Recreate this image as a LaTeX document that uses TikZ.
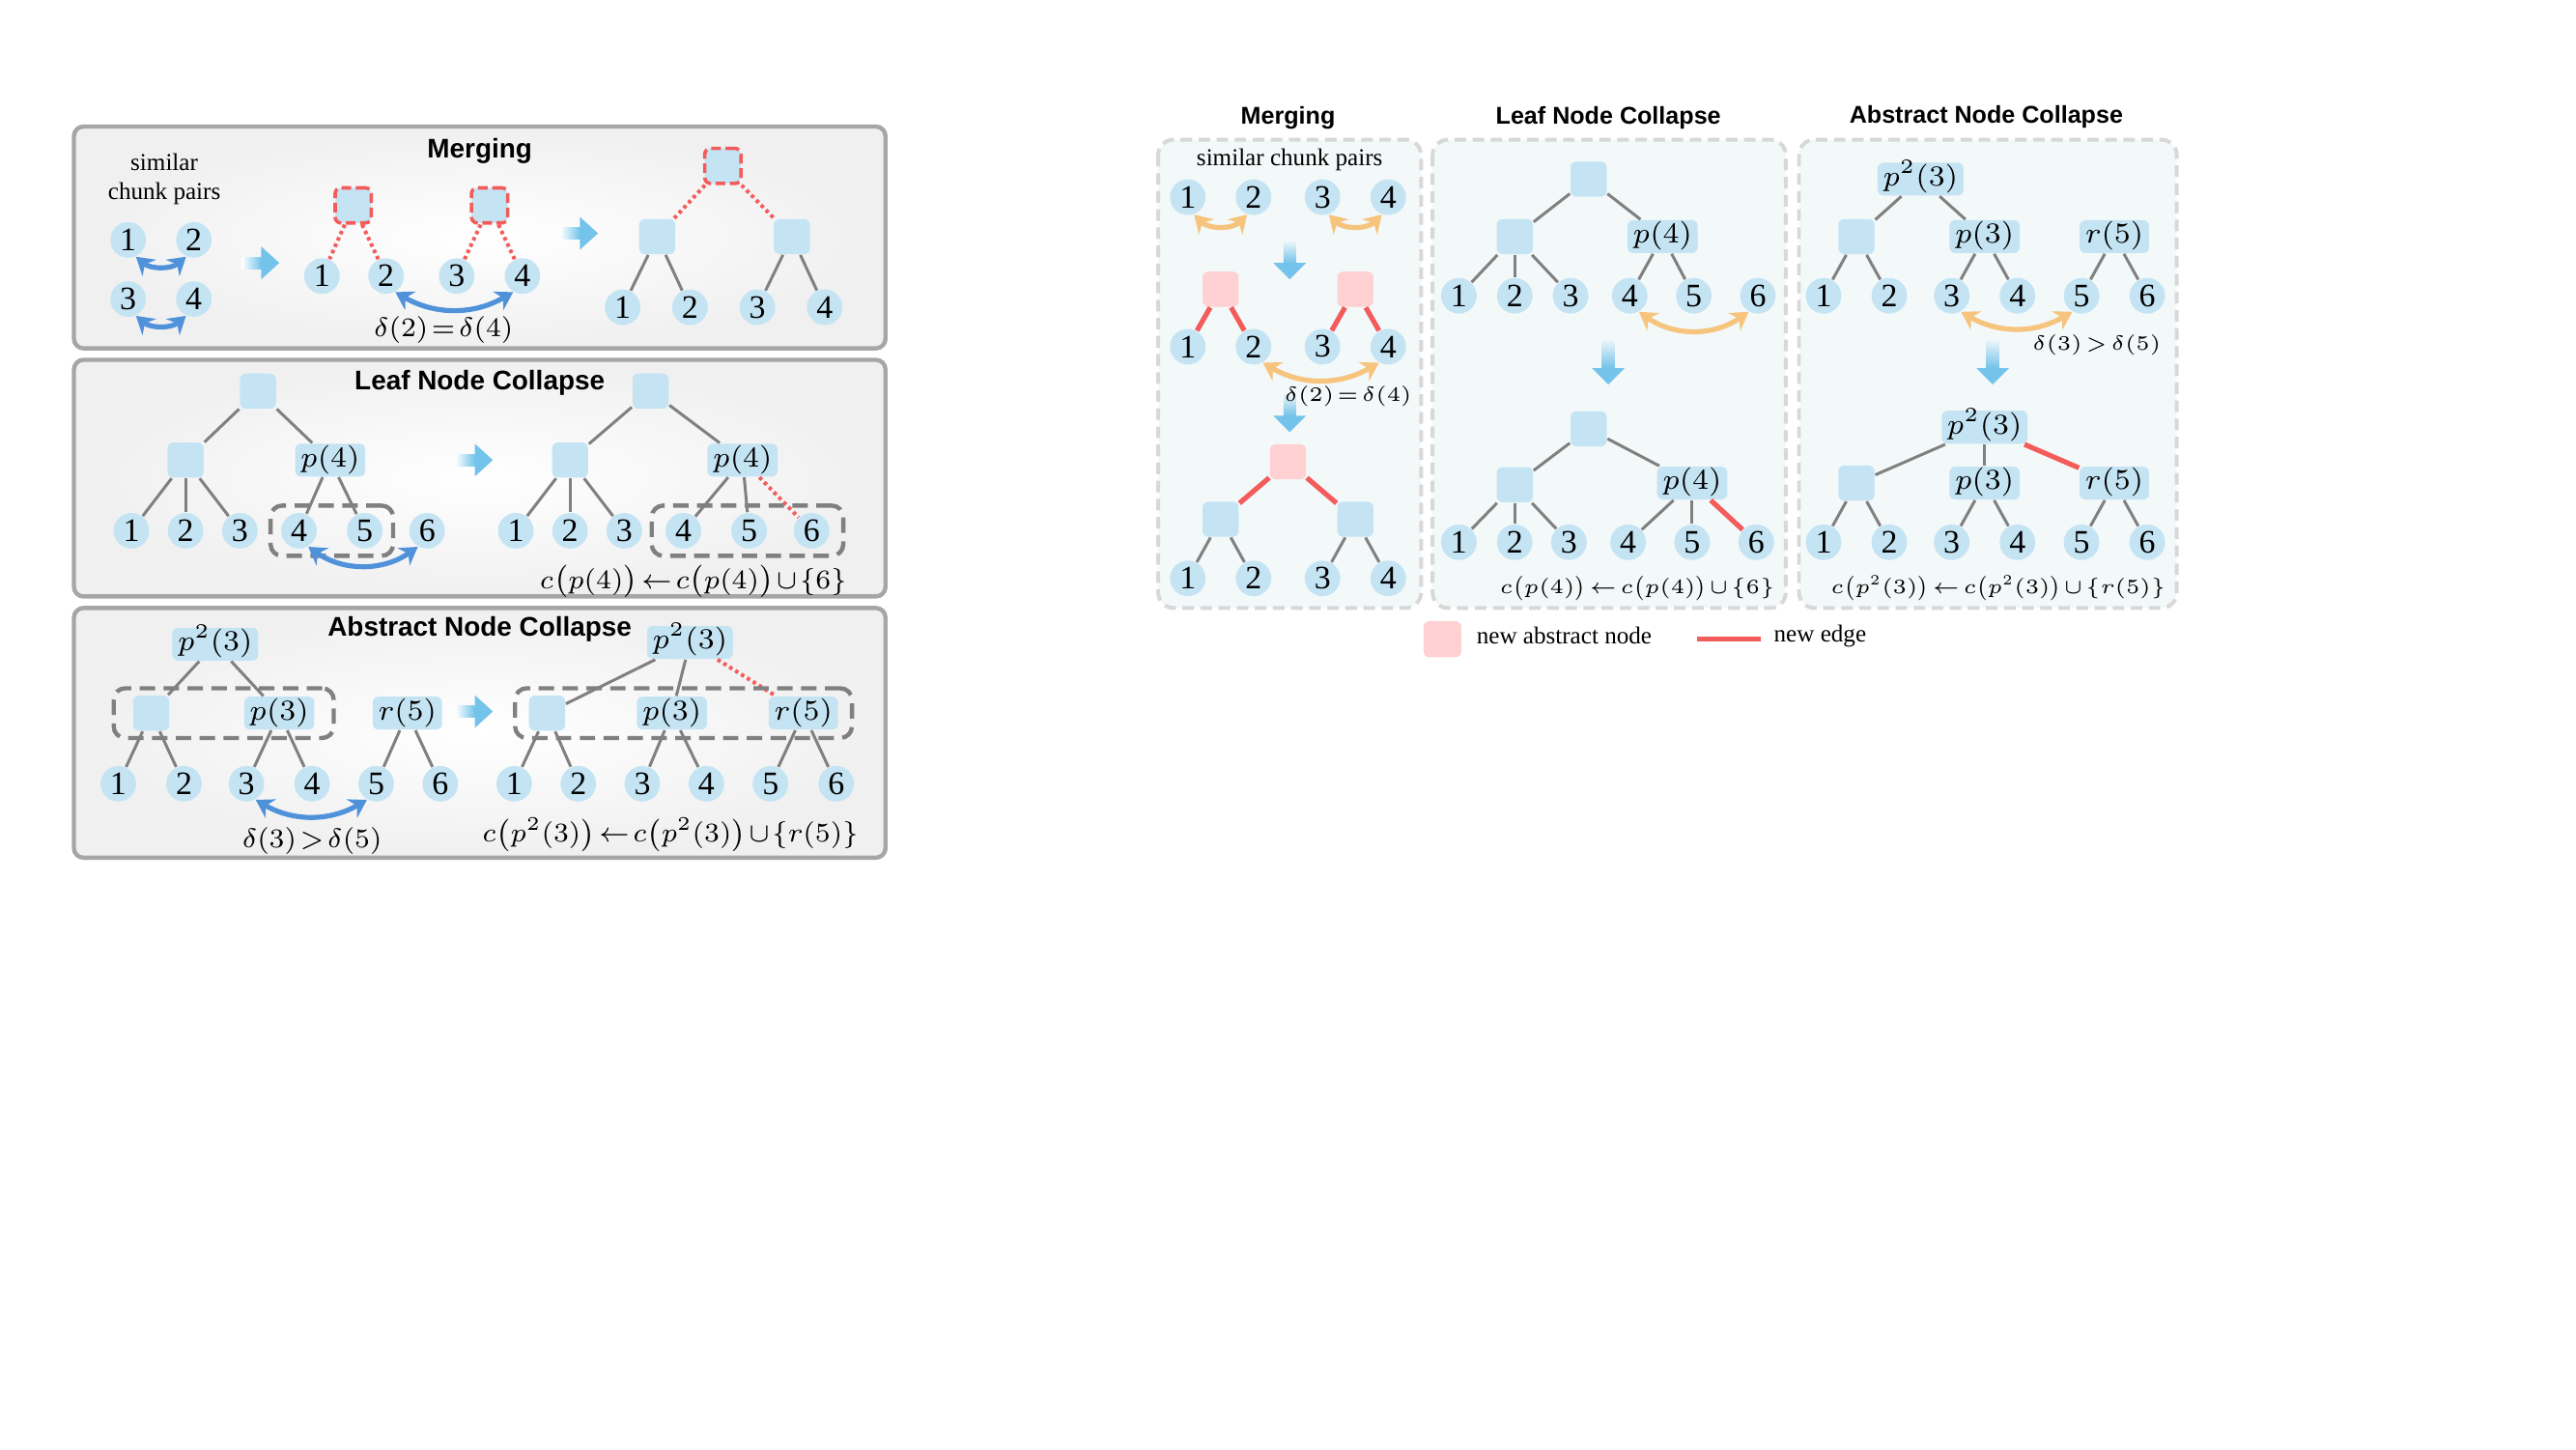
\RequirePackage{fix-cm}
\documentclass[tikz,border=0pt]{standalone}
\usepackage{amsmath}
\usepackage{fontspec}
\setmainfont{Liberation Serif}
\newfontfamily\headfont{Liberation Sans}
\usetikzlibrary{arrows.meta,fit}

\definecolor{nodeblue}{HTML}{C4E4F4}
\definecolor{newpink}{HTML}{FFD1D3}
\definecolor{edgered}{HTML}{F45B5B}
\definecolor{edgegray}{HTML}{808080}
\definecolor{pairblue}{HTML}{4F92DA}
\definecolor{pairorange}{HTML}{F6C47C}
\definecolor{flowblue}{HTML}{74C3EA}
\definecolor{panelfill}{HTML}{F3F8F9}
\definecolor{paneldash}{HTML}{D8D8D8}
\definecolor{boxgray}{HTML}{A6A6A6}
\definecolor{groupgray}{HTML}{808080}

\tikzset{
  leaf/.style={circle, fill=nodeblue, inner sep=0pt, minimum size=3.25mm, font=\fontsize{8.5}{9}\selectfont},
  absnode/.style={rectangle, rounded corners=1.5pt, fill=nodeblue, inner sep=0pt, minimum width=3.3mm, minimum height=3.2mm},
  newnode/.style={absnode, fill=newpink},
  mergenode/.style={absnode, draw=edgered, line width=0.9pt, dash pattern=on 2.5pt off 1.2pt},
  tag/.style={absnode, inner xsep=0.5mm, minimum height=3mm, text height=1.9mm, text depth=0.7mm, font=\fontsize{7.5}{8}\selectfont},
  treeedge/.style={draw=edgegray, line width=0.75pt},
  newedge/.style={draw=edgered, line width=1.3pt},
  dotedge/.style={draw=edgered, line width=1pt, dash pattern=on 0.9pt off 0.9pt},
  pairleft/.style={draw=pairblue, line width=1.3pt, {Stealth[length=4.5pt,width=5.5pt]}-{Stealth[length=4.5pt,width=5.5pt]}},
  pairright/.style={pairleft, draw=pairorange},
  groupbox/.style={draw=groupgray, line width=1.1pt, dash pattern=on 4pt off 2.2pt, rounded corners=3pt, inner sep=0pt},
  bigbox/.style={draw=boxgray, line width=1.1pt, rounded corners=2.5pt, inner color=white, outer color=black!6},
  panel/.style={draw=paneldash, fill=panelfill, line width=1pt, dash pattern=on 3pt off 1.7pt, rounded corners=4pt},
  lefttitle/.style={font=\headfont\bfseries\fontsize{7}{8}\selectfont},
  righttitle/.style={font=\headfont\bfseries\fontsize{6.3}{7}\selectfont},
  note/.style={inner sep=1pt, font=\fontsize{6.3}{7.7}\selectfont},
  tight/.style={execute at begin node={\thickmuskip=2mu\medmuskip=1.5mu}},
  mathL/.style={tight, inner sep=0.5pt, font=\fontsize{7}{8}\selectfont},
  mathR/.style={tight, inner sep=0.5pt, font=\fontsize{5.3}{6}\selectfont}
}

% fat flow arrows
\newcommand\flowright[2]{%
  \shade[left color=white, right color=flowblue] (#1,{#2-3.5}) rectangle ({#1+12},{#2+3.5});
  \fill[flowblue] ({#1+12},{#2-10}) -- ({#1+23},#2) -- ({#1+12},{#2+10}) -- cycle;}
\newcommand\flowdown[4]{%
  \shade[top color=panelfill, bottom color=flowblue] ({#1-3.8},#2) rectangle ({#1+3.8},#3);
  \fill[flowblue] ({#1-10},#3) -- (#1,#4) -- ({#1+10},#3) -- cycle;}

\begin{document}
\begin{tikzpicture}[x=0.15mm,y=-0.15mm]
\useasboundingbox (0,0) rectangle (1568,882);

% ---------- left figure ----------
\foreach \top/\bot in {77/212,219/363,370/522}
  \draw[bigbox] (45,\top) rectangle (539,\bot);

% Merging
\node[lefttitle] (mt) at (292,92) {Merging};
\node[note, align=center] (msim) at (100,109) {similar\\chunk pairs};
\foreach \n/\x/\y in {1/78/146,2/118/146,3/78/182,4/118/182}
  \node[leaf] (ma\n) at (\x,\y) {\n};
\draw[pairleft] (ma1.-65) to[bend right=40] (ma2.-115);
\draw[pairleft] (ma3.-65) to[bend right=40] (ma4.-115);
\flowright{147}{160}

\node[mergenode] (mbp) at (215,125) {};
\node[mergenode] (mbq) at (298,125) {};
\foreach \n/\x in {1/196,2/235,3/278,4/318}
  \node[leaf] (mb\n) at (\x,168) {\n};
\draw[dotedge] (mbp) -- (mb1);
\draw[dotedge] (mbp) -- (mb2);
\draw[dotedge] (mbq) -- (mb3);
\draw[dotedge] (mbq) -- (mb4);
\draw[pairleft] (mb2.-60) to[bend right=30] (mb4.-120);
\node[mathL] (meq) at (270,201) {$\delta(2) = \delta(4)$};
\flowright{341}{142}

\node[mergenode] (mct) at (440,101) {};
\node[absnode] (mca) at (400,144) {};
\node[absnode] (mcb) at (482,144) {};
\foreach \n/\x in {1/379,2/420,3/461,4/502}
  \node[leaf] (mc\n) at (\x,187) {\n};
\draw[dotedge] (mct) -- (mca);
\draw[dotedge] (mct) -- (mcb);
\foreach \n in {1,2} \draw[treeedge] (mca) -- (mc\n);
\foreach \n in {3,4} \draw[treeedge] (mcb) -- (mc\n);

% Leaf Node Collapse
\node[lefttitle] (lt) at (292,233) {Leaf Node Collapse};
\node[absnode] (lr) at (157,238) {};
\node[absnode] (ls) at (113,280) {};
\node[tag] (lp) at (201,280) {$p(4)$};
\foreach \n/\x in {1/80,2/113,3/146,4/182,5/222,6/260}
  \node[leaf] (la\n) at (\x,323) {\n};
\draw[treeedge] (lr) -- (ls);
\draw[treeedge] (lr) -- (lp);
\foreach \n in {1,2,3} \draw[treeedge] (ls) -- (la\n);
\foreach \n in {4,5} \draw[treeedge] (lp) -- (la\n);
\node[groupbox, fit=(la4)(la5), inner xsep=0.9mm, inner ysep=0.6mm] (lg) {};
\draw[pairleft] (la4.-60) to[bend right=35] (la6.-120);
\flowright{277}{280}

\node[absnode] (lR) at (396,238) {};
\node[absnode] (lS) at (347,280) {};
\node[tag] (lP) at (452,280) {$p(4)$};
\foreach \n/\x in {1/314,2/347,3/380,4/416,5/456,6/494}
  \node[leaf] (lb\n) at (\x,323) {\n};
\draw[treeedge] (lR) -- (lS);
\draw[treeedge] (lR) -- (lP);
\foreach \n in {1,2,3} \draw[treeedge] (lS) -- (lb\n);
\foreach \n in {4,5} \draw[treeedge] (lP) -- (lb\n);
\draw[dotedge] (lP) -- (lb6);
\node[groupbox, fit=(lb4)(lb6), inner xsep=1.2mm, inner ysep=0.6mm] (lG) {};
\node[mathL] (lrule) at (422,354) {$c\bigl(p(4)\bigr) \leftarrow c\bigl(p(4)\bigr) \cup \{6\}$};

% Abstract Node Collapse
\node[lefttitle] (at) at (292,383) {Abstract Node Collapse};
\node[tag] (aP2) at (131,392) {$p^2(3)$};
\node[absnode] (aS) at (92,434) {};
\node[tag] (aP) at (170,434) {$p(3)$};
\node[tag] (aR) at (248,434) {$r(5)$};
\foreach \n/\x in {1/72,2/112,3/150,4/190,5/229,6/268}
  \node[leaf] (aa\n) at (\x,477) {\n};
\draw[treeedge] (aP2) -- (aS);
\draw[treeedge] (aP2) -- (aP);
\foreach \n in {1,2} \draw[treeedge] (aS) -- (aa\n);
\foreach \n in {3,4} \draw[treeedge] (aP) -- (aa\n);
\foreach \n in {5,6} \draw[treeedge] (aR) -- (aa\n);
\node[groupbox, fit=(aS)(aP), inner xsep=1.7mm, inner ysep=0.6mm] (ag) {};
\draw[pairleft] (aa3.-60) to[bend right=30] (aa5.-120);
\node[mathL] (aineq) at (190,512) {$\delta(3) > \delta(5)$};
\flowright{277}{433}

\node[tag] (bP2) at (420,391) {$p^2(3)$};
\node[absnode] (bS) at (333,434) {};
\node[tag] (bP) at (409,434) {$p(3)$};
\node[tag] (bR) at (489,434) {$r(5)$};
\foreach \n/\x in {1/313,2/352,3/391,4/430,5/469,6/509}
  \node[leaf] (bb\n) at (\x,477) {\n};
\draw[treeedge] (bP2) -- (bS);
\draw[treeedge] (bP2) -- (bP);
\draw[dotedge] (bP2) -- (bR);
\foreach \n in {1,2} \draw[treeedge] (bS) -- (bb\n);
\foreach \n in {3,4} \draw[treeedge] (bP) -- (bb\n);
\foreach \n in {5,6} \draw[treeedge] (bR) -- (bb\n);
\node[groupbox, fit=(bS)(bR), inner xsep=1.2mm, inner ysep=0.6mm] (bg) {};
\node[mathL] (brule) at (408,508) {$c\bigl(p^2(3)\bigr) \leftarrow c\bigl(p^2(3)\bigr) \cup \{r(5)\}$};

% ---------- right figure ----------
\node[righttitle] (pt) at (784,72) {Merging};
\node[righttitle] (qt) at (979,72) {Leaf Node Collapse};
\node[righttitle] (st) at (1209,71) {Abstract Node Collapse};
\foreach \l/\r in {705/865,872/1087,1095/1325}
  \draw[panel] (\l,85) rectangle (\r,370);

% panel 1
\node[note] (psim) at (785,97) {similar chunk pairs};
\foreach \n/\x in {1/723,2/763,3/805,4/845} {
  \node[leaf] (pa\n) at (\x,120) {\n};
  \node[leaf] (pb\n) at (\x,211) {\n};
  \node[leaf] (pc\n) at (\x,352) {\n};
}
\draw[pairright] (pa1.-70) to[bend right=45] (pa2.-110);
\draw[pairright] (pa3.-70) to[bend right=45] (pa4.-110);
\flowdown{785}{146}{160}{170}
\node[newnode] (pbp) at (743,176) {};
\node[newnode] (pbq) at (825,176) {};
\draw[newedge] (pbp) -- (pb1);
\draw[newedge] (pbp) -- (pb2);
\draw[newedge] (pbq) -- (pb3);
\draw[newedge] (pbq) -- (pb4);
\draw[pairright] (pb2.-60) to[bend right=30] (pb4.-120);
\flowdown{785}{239}{253}{263}
\node[mathR, anchor=east] (peq) at (861,241) {$\delta(2) = \delta(4)$};
\node[newnode] (pct) at (784,281) {};
\node[absnode] (pca) at (743,316) {};
\node[absnode] (pcb) at (825,316) {};
\draw[newedge] (pct) -- (pca);
\draw[newedge] (pct) -- (pcb);
\foreach \n in {1,2} \draw[treeedge] (pca) -- (pc\n);
\foreach \n in {3,4} \draw[treeedge] (pcb) -- (pc\n);

% panel 2
\node[absnode] (qr) at (967,109) {};
\node[absnode] (qs) at (922,144) {};
\node[tag] (qp) at (1012,144) {$p(4)$};
\foreach \n/\x in {1/888,2/922,3/956,4/992,5/1031,6/1070}
  \node[leaf] (qa\n) at (\x,180) {\n};
\draw[treeedge] (qr) -- (qs);
\draw[treeedge] (qr) -- (qp);
\foreach \n in {1,2,3} \draw[treeedge] (qs) -- (qa\n);
\foreach \n in {4,5} \draw[treeedge] (qp) -- (qa\n);
\draw[pairright] (qa4.-60) to[bend right=35] (qa6.-120);
\flowdown{979}{206}{224}{234}
\node[absnode] (qR) at (967,261) {};
\node[absnode] (qS) at (922,295) {};
\node[tag] (qP) at (1030,294) {$p(4)$};
\foreach \n/\x in {1/888,2/922,3/955,4/991,5/1030,6/1069}
  \node[leaf] (qb\n) at (\x,330) {\n};
\draw[treeedge] (qR) -- (qS);
\draw[treeedge] (qR) -- (qP);
\foreach \n in {1,2,3} \draw[treeedge] (qS) -- (qb\n);
\foreach \n in {4,5} \draw[treeedge] (qP) -- (qb\n);
\draw[newedge] (qP) -- (qb6);
\node[mathR, anchor=east] (qrule) at (1082,358) {$c\bigl(p(4)\bigr) \leftarrow c\bigl(p(4)\bigr) \cup \{6\}$};

% panel 3
\node[tag] (sP2) at (1169,109) {$p^2(3)$};
\node[absnode] (sS) at (1130,144) {};
\node[tag] (sP) at (1208,144) {$p(3)$};
\node[tag] (sR) at (1287,144) {$r(5)$};
\foreach \n/\x in {1/1110,2/1150,3/1188,4/1228,5/1267,6/1307} {
  \node[leaf] (sa\n) at (\x,180) {\n};
  \node[leaf] (sb\n) at (\x,330) {\n};
}
\draw[treeedge] (sP2) -- (sS);
\draw[treeedge] (sP2) -- (sP);
\foreach \n in {1,2} \draw[treeedge] (sS) -- (sa\n);
\foreach \n in {3,4} \draw[treeedge] (sP) -- (sa\n);
\foreach \n in {5,6} \draw[treeedge] (sR) -- (sa\n);
\draw[pairright] (sa3.-60) to[bend right=30] (sa5.-120);
\node[mathR, anchor=east] (sineq) at (1317,210) {$\delta(3) > \delta(5)$};
\flowdown{1213}{206}{224}{234}
\node[tag] (tP2) at (1208,260) {$p^2(3)$};
\node[absnode] (tS) at (1130,294) {};
\node[tag] (tP) at (1208,294) {$p(3)$};
\node[tag] (tR) at (1287,294) {$r(5)$};
\draw[treeedge] (tP2) -- (tS);
\draw[treeedge] (tP2) -- (tP);
\draw[newedge] (tP2) -- (tR);
\foreach \n in {1,2} \draw[treeedge] (tS) -- (sb\n);
\foreach \n in {3,4} \draw[treeedge] (tP) -- (sb\n);
\foreach \n in {5,6} \draw[treeedge] (tR) -- (sb\n);
\node[mathR, anchor=east] (srule) at (1320,358) {$c\bigl(p^2(3)\bigr) \leftarrow c\bigl(p^2(3)\bigr) \cup \{r(5)\}$};

% legend
\node[newnode, minimum width=3.45mm, minimum height=3.3mm] (keynode) at (878,389) {};
\node[note, anchor=west] (keynodetxt) at (896,387) {new abstract node};
\coordinate (keya) at (1033,389);
\coordinate (keyb) at (1072,389);
\draw[newedge] (keya) -- (keyb);
\node[note, anchor=west] (keyedgetxt) at (1077,387) {new edge};

\end{tikzpicture}
\end{document}
